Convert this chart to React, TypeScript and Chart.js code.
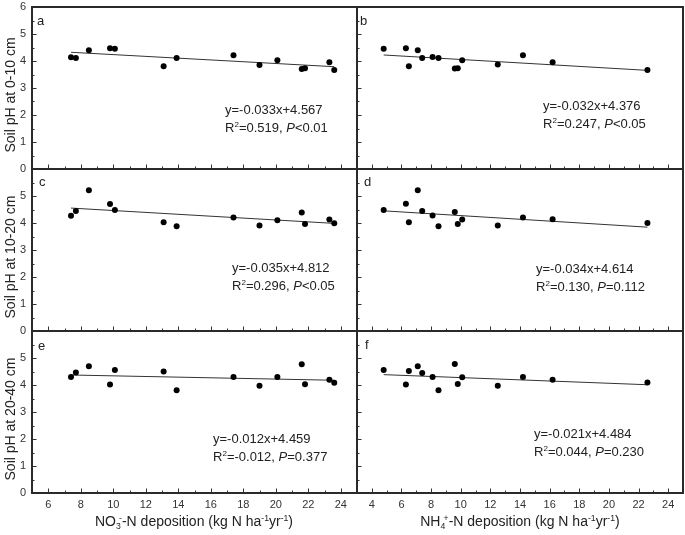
import React, { useEffect, useRef } from "react";
import { Chart, registerables } from "chart.js";

Chart.register(...registerables);

const W = 685;
const H = 535;

// Deposition (x) values for the 14 sites
const nitrateX = [7.4, 7.7, 8.5, 9.8, 10.1, 13.1, 13.9, 17.4, 19.0, 20.1, 21.6, 21.8, 23.3, 23.6];
const ammoniumX = [4.8, 6.3, 6.5, 7.1, 7.4, 8.1, 8.5, 9.6, 9.8, 10.1, 12.5, 14.2, 16.2, 22.6];

// Soil pH values per panel
const phA = [4.14, 4.11, 4.40, 4.47, 4.45, 3.81, 4.11, 4.21, 3.85, 4.03, 3.70, 3.73, 3.95, 3.67];
const phB = [4.45, 4.47, 3.81, 4.40, 4.11, 4.15, 4.11, 3.72, 3.73, 4.03, 3.87, 4.21, 3.95, 3.67];
const phC = [4.27, 4.44, 5.21, 4.70, 4.48, 4.03, 3.88, 4.20, 3.91, 4.10, 4.39, 3.96, 4.13, 3.99];
const phD = [4.48, 4.71, 4.03, 5.21, 4.44, 4.28, 3.88, 4.41, 3.96, 4.13, 3.91, 4.20, 4.14, 4.00];
const phE = [4.30, 4.46, 4.69, 4.02, 4.56, 4.50, 3.81, 4.30, 3.97, 4.30, 4.77, 4.03, 4.19, 4.08];
const phF = [4.56, 4.02, 4.52, 4.69, 4.44, 4.30, 3.81, 4.78, 4.04, 4.29, 3.97, 4.30, 4.19, 4.09];

// Regression equations (as printed)
const slopes = [-0.033, -0.032, -0.035, -0.034, -0.012, -0.021];
const intercepts = [4.567, 4.376, 4.812, 4.614, 4.459, 4.484];
const eqTexts = ["y=-0.033x+4.567", "y=-0.032x+4.376", "y=-0.035x+4.812", "y=-0.034x+4.614", "y=-0.012x+4.459", "y=-0.021x+4.484"];
const r2Texts = ["0.519", "0.247", "0.296", "0.130", "-0.012", "0.044"];
const pTexts = ["<0.01", "<0.05", "<0.05", "=0.112", "=0.377", "=0.230"];
const panelLetters = ["a", "b", "c", "d", "e", "f"];
const yTitles = ["Soil pH at 0-10 cm", "Soil pH at 10-20 cm", "Soil pH at 20-40 cm"];

// Tick values
const xMajorNitrate = [6, 8, 10, 12, 14, 16, 18, 20, 22, 24];
const xMinorNitrate = [7, 9, 11, 13, 15, 17, 19, 21, 23];
const xMajorAmmonium = [4, 6, 8, 10, 12, 14, 16, 18, 20, 22, 24];
const xMinorAmmonium = [5, 7, 9, 11, 13, 15, 17, 19, 21, 23];
const yMajor = [0, 1, 2, 3, 4, 5, 6];
const yMajorNoTop = [0, 1, 2, 3, 4, 5];
const yMinor = [0.5, 1.5, 2.5, 3.5, 4.5, 5.5];

const COLS = [
  { x0: 32, x1: 357, min: 5, max: 25 },
  { x0: 357, x1: 683, min: 3, max: 25 },
];
const ROWS = [
  { y0: 7, y1: 169 },
  { y0: 169, y1: 331 },
  { y0: 331, y1: 493 },
];

const panels = [
  { col: 0, row: 0, y: phA },
  { col: 1, row: 0, y: phB },
  { col: 0, row: 1, y: phC },
  { col: 1, row: 1, y: phD },
  { col: 0, row: 2, y: phE },
  { col: 1, row: 2, y: phF },
];

const FONT = '"Liberation Sans", Arial, Helvetica, sans-serif';

const framePlugin = {
  id: "frame",
  afterDraw(chart: any, _args: any, opts: any) {
    const { ctx, chartArea } = chart;
    const { left, right, top, bottom } = chartArea;
    const xs = chart.scales.x;
    const ys = chart.scales.y;
    ctx.save();
    ctx.strokeStyle = "#333";
    ctx.lineWidth = 1;
    const tick = (x1: number, y1: number, x2: number, y2: number) => {
      ctx.beginPath();
      ctx.moveTo(x1, y1);
      ctx.lineTo(x2, y2);
      ctx.stroke();
    };
    for (const v of opts.xMajor) {
      const px = Math.round(xs.getPixelForValue(v)) + 0.5;
      tick(px, bottom, px, bottom - 4.5);
    }
    for (const v of opts.xMinor) {
      const px = Math.round(xs.getPixelForValue(v)) + 0.5;
      tick(px, bottom, px, bottom - 2.5);
    }
    for (const v of yMajor) {
      const py = Math.round(ys.getPixelForValue(v)) + 0.5;
      tick(left, py, left + 4.5, py);
    }
    for (const v of yMinor) {
      const py = Math.round(ys.getPixelForValue(v)) + 0.5;
      tick(left, py, left + 2.5, py);
    }
    ctx.strokeStyle = "#2a2a2a";
    ctx.lineWidth = 2;
    ctx.strokeRect(left, top, right - left, bottom - top);
    ctx.restore();
  },
};

function makeConfig(i: number): any {
  const p = panels[i];
  const c = COLS[p.col];
  const r = ROWS[p.row];
  const xs = p.col === 0 ? nitrateX : ammoniumX;
  const pts = xs.map((x, k) => ({ x, y: p.y[k] }));
  const lo = Math.min(...xs);
  const hi = Math.max(...xs);
  const fit = [
    { x: lo, y: slopes[i] * lo + intercepts[i] },
    { x: hi, y: slopes[i] * hi + intercepts[i] },
  ];
  const xMajor = p.col === 0 ? xMajorNitrate : xMajorAmmonium;
  const xMinor = p.col === 0 ? xMinorNitrate : xMinorAmmonium;
  const yTicks = p.row === 0 ? yMajor : yMajorNoTop;
  const tickFont = { family: FONT, size: 11 };
  const showX = p.row === 2;
  const showY = p.col === 0;
  const xAxisH = showX ? H - r.y1 : 0;
  const yAxisW = showY ? c.x0 : 0;
  const zeroPad = (s: any) => {
    s.paddingLeft = 0;
    s.paddingRight = 0;
    s.paddingTop = 0;
    s.paddingBottom = 0;
  };
  return {
    type: "scatter",
    data: {
      datasets: [
        {
          data: fit,
          showLine: true,
          borderColor: "#333",
          borderWidth: 1,
          pointRadius: 0,
          fill: false,
          order: 1,
        },
        {
          data: pts,
          backgroundColor: "#000",
          borderColor: "#000",
          borderWidth: 0,
          pointRadius: 3,
          order: 0,
        },
      ],
    },
    options: {
      responsive: false,
      animation: false,
      devicePixelRatio: 1,
      events: [],
      layout: {
        autoPadding: false,
        padding: {
          left: c.x0 - yAxisW,
          right: W - c.x1,
          top: r.y0,
          bottom: H - r.y1 - xAxisH,
        },
      },
      plugins: {
        legend: { display: false },
        tooltip: { enabled: false },
        frame: { xMajor, xMinor },
      },
      scales: {
        x: {
          type: "linear",
          min: c.min,
          max: c.max,
          display: showX,
          grid: { display: false, drawTicks: false },
          border: { display: false },
          ticks: { font: tickFont, color: "#333", padding: 5, maxRotation: 0, autoSkip: false },
          afterBuildTicks: (s: any) => {
            s.ticks = xMajor.map((v) => ({ value: v }));
          },
          afterFit: (s: any) => {
            s.height = xAxisH;
            zeroPad(s);
          },
        },
        y: {
          type: "linear",
          min: 0,
          max: 6,
          display: showY,
          grid: { display: false, drawTicks: false },
          border: { display: false },
          ticks: { font: tickFont, color: "#333", padding: 6, autoSkip: false },
          afterBuildTicks: (s: any) => {
            s.ticks = yTicks.map((v) => ({ value: v }));
          },
          afterFit: (s: any) => {
            s.width = yAxisW;
            zeroPad(s);
          },
        },
      },
    },
    plugins: [framePlugin],
  };
}

const Sup = ({ children }: any) => (
  <span style={{ fontSize: "0.62em", position: "relative", top: "-0.6em" }}>{children}</span>
);
const SubSup = ({ sub, sup }: any) => (
  <>
    <span style={{ fontSize: "0.62em", position: "relative", top: "0.35em" }}>{sub}</span>
    <span style={{ fontSize: "0.62em", position: "relative", top: "-0.6em", marginLeft: "-0.2em" }}>{sup}</span>
  </>
);

// annotation placement (left edge, centre of first line)
const notePos = [
  { left: 225, cy: 110 },
  { left: 543, cy: 106 },
  { left: 232, cy: 268 },
  { left: 536, cy: 269 },
  { left: 213, cy: 439 },
  { left: 534, cy: 434 },
];
const letterPos = [
  { left: 37, cy: 21 },
  { left: 360, cy: 21 },
  { left: 39, cy: 182 },
  { left: 364, cy: 182 },
  { left: 38, cy: 346 },
  { left: 365, cy: 345 },
];
const yTitleCy = [95, 257, 419];

export default function App() {
  const refs = useRef<(HTMLCanvasElement | null)[]>([]);
  useEffect(() => {
    const charts = panels.map((_, i) => new Chart(refs.current[i] as HTMLCanvasElement, makeConfig(i)));
    return () => charts.forEach((ch) => ch.destroy());
  }, []);

  const txt: React.CSSProperties = {
    position: "absolute",
    whiteSpace: "nowrap",
    fontFamily: FONT,
    color: "#222",
  };

  return (
    <div style={{ position: "absolute", left: 0, top: 0, width: W, height: H, background: "#fff", overflow: "hidden" }}>
      {panels.map((_, i) => (
        <canvas
          key={i}
          ref={(el) => {
            refs.current[i] = el;
          }}
          width={W}
          height={H}
          style={{ position: "absolute", left: 0, top: 0, width: W, height: H }}
        />
      ))}
      {notePos.map((n, i) => (
        <React.Fragment key={"n" + i}>
          <div style={{ ...txt, left: n.left, top: n.cy - 8, fontSize: 13, lineHeight: "16px" }}>{eqTexts[i]}</div>
          <div style={{ ...txt, left: n.left, top: n.cy + 18 - 8, fontSize: 13, lineHeight: "16px" }}>
            R<Sup>2</Sup>={r2Texts[i]}, <i>P</i>
            {pTexts[i]}
          </div>
        </React.Fragment>
      ))}
      {letterPos.map((l, i) => (
        <div key={"l" + i} style={{ ...txt, left: l.left, top: l.cy - 8, fontSize: 13, lineHeight: "16px" }}>
          {panelLetters[i]}
        </div>
      ))}
      {yTitleCy.map((cy, i) => (
        <div
          key={"y" + i}
          style={{
            ...txt,
            left: 10 - 80,
            top: cy - 8,
            width: 160,
            textAlign: "center",
            fontSize: 14,
            lineHeight: "16px",
            transform: "rotate(-90deg)",
            transformOrigin: "50% 50%",
          }}
        >
          {yTitles[i]}
        </div>
      ))}
      <div style={{ ...txt, left: 194 - 150, top: 521 - 9, width: 300, textAlign: "center", fontSize: 14, lineHeight: "18px" }}>
        NO<SubSup sub="3" sup="-" />-N deposition (kg N ha<Sup>-1</Sup>yr<Sup>-1</Sup>)
      </div>
      <div style={{ ...txt, left: 520 - 150, top: 521 - 9, width: 300, textAlign: "center", fontSize: 14, lineHeight: "18px" }}>
        NH<SubSup sub="4" sup="+" />-N deposition (kg N ha<Sup>-1</Sup>yr<Sup>-1</Sup>)
      </div>
    </div>
  );
}
